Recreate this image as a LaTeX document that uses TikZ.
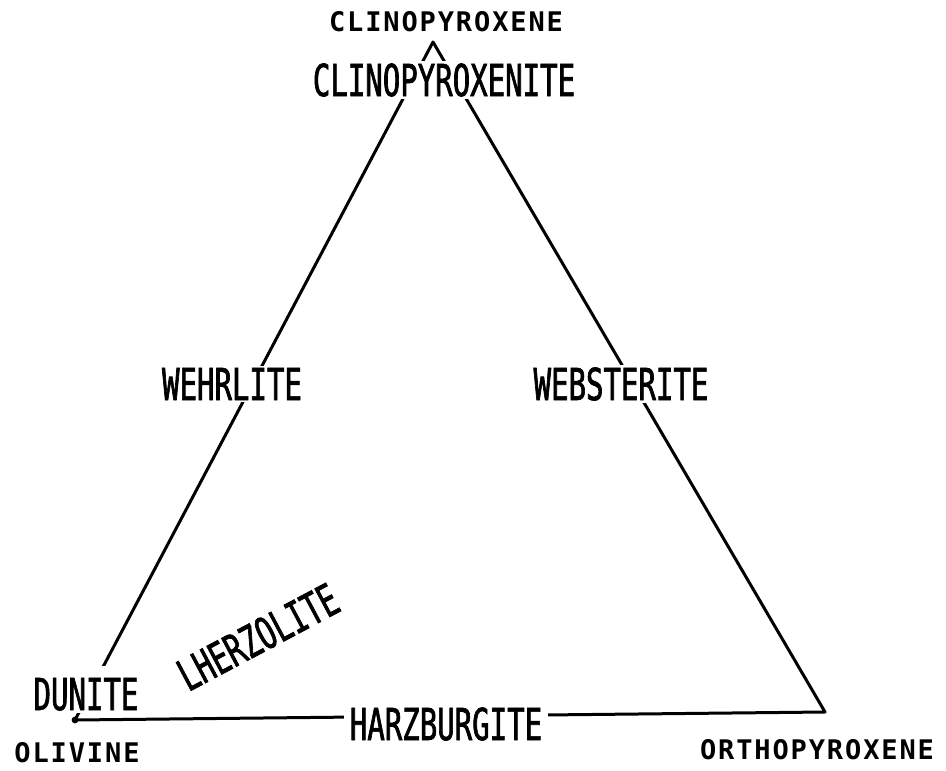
\documentclass[tikz,border=0pt]{standalone}
\usepackage{fontspec}
\newfontfamily\rockfont[FakeStretch=0.66,FakeBold=1.5]{DejaVu Sans Mono}
\newfontfamily\endfont[LetterSpace=7]{DejaVu Sans Mono}
\usetikzlibrary{positioning}

\begin{document}
\begin{tikzpicture}[x=0.5pt,y=-0.5pt,
  every node/.style={inner xsep=3pt,inner ysep=1pt},
  rock/.style={font=\rockfont\fontsize{22}{22}\selectfont,fill=white},
  member/.style={font=\endfont\bfseries\fontsize{13.5}{14}\selectfont}]
\useasboundingbox (0,0) rectangle (946,770);
% corners of the triangle
\coordinate (cpx) at (433,42);
\coordinate (ol) at (75,720);
\coordinate (opx) at (825,712);
\draw[line width=1.5pt,line join=round] (cpx)--(ol)--(opx)--cycle;
\fill (ol) circle (1.7pt);
% end members
\node[member] (cpxlab) at (446,22) {CLINOPYROXENE};
\node[member] (ollab) at (77,753) {OLIVINE};
\node[member] (opxlab) at (817,750) {ORTHOPYROXENE};
% rock names
\node[rock] (clinop) at (444,80) {CLINOPYROXENITE};
\node[rock] (wehr) at (232,384) {WEHRLITE};
\node[rock] (webs) at (621,384) {WEBSTERITE};
\node[rock,text height=21pt,anchor=base] (dun) at (86,710) {DUNITE};
\node[rock] (harz) at (446,724) {HARZBURGITE};
\node[rock,fill=none,rotate=28] (lherz) at (258,637) {LHERZOLITE};
\end{tikzpicture}
\end{document}
